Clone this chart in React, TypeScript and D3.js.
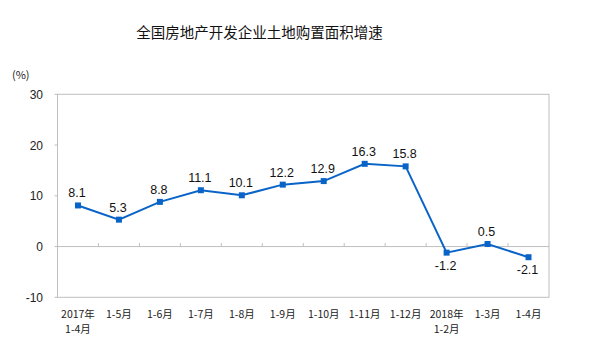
import React from "react";
import * as d3 from "d3";

const categories = [
  "2017年\n1-4月",
  "1-5月",
  "1-6月",
  "1-7月",
  "1-8月",
  "1-9月",
  "1-10月",
  "1-11月",
  "1-12月",
  "2018年\n1-2月",
  "1-3月",
  "1-4月",
];
const values = [8.1, 5.3, 8.8, 11.1, 10.1, 12.2, 12.9, 16.3, 15.8, -1.2, 0.5, -2.1];
const yTicks = [-10, 0, 10, 20, 30];

const title = "全国房地产开发企业土地购置面积增速";
const unit = "(%)";

const latin = "'Liberation Sans', Arial, sans-serif";
const cjk = "'Noto Sans CJK SC', 'Liberation Sans', sans-serif";

export default function App() {
  const width = 593;
  const height = 354;
  const left = 57.5;
  const right = 549;
  const top = 94.3;
  const bottom = 297.3;

  const x = d3.scaleBand<string>().domain(categories).range([left, right]);
  const y = d3.scaleLinear().domain([-10, 30]).range([bottom, top]);
  const cx = (i: number) => (x(categories[i]) as number) + x.bandwidth() / 2;

  const line = d3
    .line<number>()
    .x((_, i) => cx(i))
    .y((d) => y(d));

  const lineColor = "#0a64c8";
  const axisColor = "#bfbfbf";

  return (
    <svg
      width={width}
      height={height}
      style={{ position: "absolute", left: 0, top: 0, background: "#fff" }}
    >
      <rect x={0} y={0} width={width} height={height} fill="#fff" />
      <text
        x={259.5}
        y={38}
        textAnchor="middle"
        fontFamily={cjk}
        fontSize={14.5}
        fill="#111"
      >
        {title}
      </text>
      <text x={12} y={79} fontFamily={cjk} fontSize={11} fill="#222">
        {unit}
      </text>

      {/* plot frame */}
      <rect
        x={left}
        y={top}
        width={right - left}
        height={bottom - top}
        fill="none"
        stroke={axisColor}
        strokeWidth={1}
      />
      <line x1={left} x2={right} y1={y(0)} y2={y(0)} stroke={axisColor} />

      {/* y axis */}
      {yTicks.map((t) => (
        <g key={t}>
          <line x1={left - 3} x2={left} y1={y(t)} y2={y(t)} stroke={axisColor} />
          <text
            x={43}
            y={y(t) + 4.5}
            textAnchor="end"
            fontFamily={latin}
            fontSize={12}
            fill="#222"
          >
            {t}
          </text>
        </g>
      ))}

      {/* category ticks on zero line */}
      {categories.slice(1).map((c) => (
        <line
          key={c}
          x1={x(c) as number}
          x2={x(c) as number}
          y1={y(0) - 3.5}
          y2={y(0)}
          stroke={axisColor}
        />
      ))}

      {/* x labels */}
      {categories.map((c, i) =>
        c.split("\n").map((part, k) => (
          <text
            key={c + k}
            x={cx(i)}
            y={318 + k * 15}
            textAnchor="middle"
            fontFamily={cjk}
            fontSize={10.5}
            fill="#222"
          >
            {part}
          </text>
        ))
      )}

      <path d={line(values) || ""} fill="none" stroke={lineColor} strokeWidth={2} />
      {values.map((v, i) => (
        <rect
          key={i}
          x={cx(i) - 3}
          y={y(v) - 3}
          width={6}
          height={6}
          fill={lineColor}
        />
      ))}

      {values.map((v, i) => (
        <text
          key={i}
          x={cx(i) - 1}
          y={v < 0 ? y(v) + 17 : y(v) - 8}
          textAnchor="middle"
          fontFamily={latin}
          fontSize={12.5}
          fill="#111"
        >
          {v}
        </text>
      ))}
    </svg>
  );
}
